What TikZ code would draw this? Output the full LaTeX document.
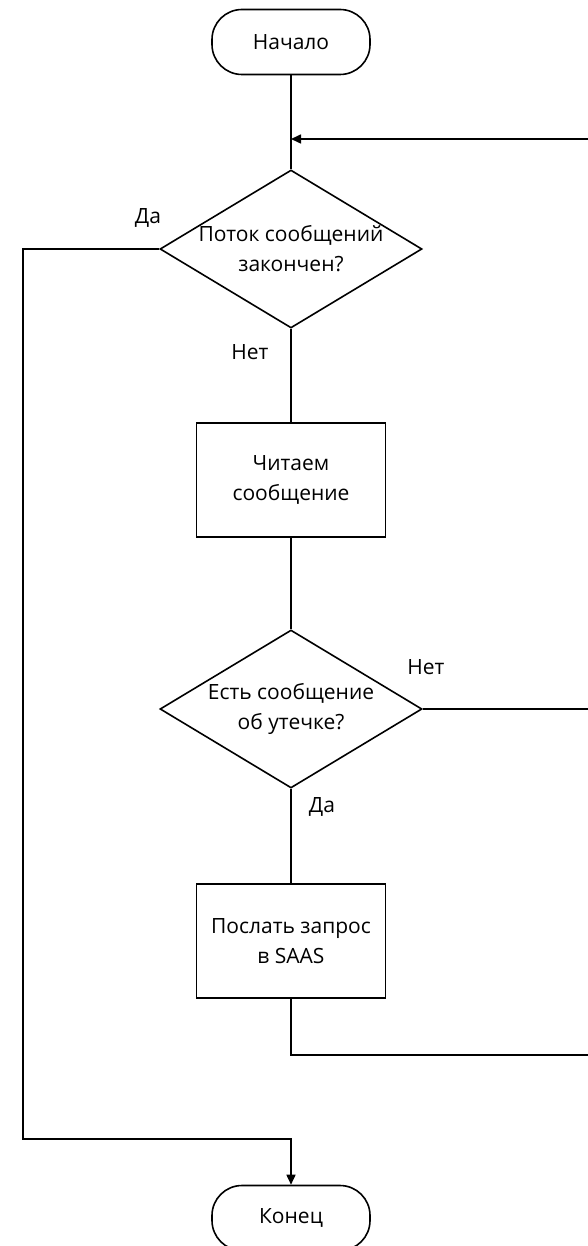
\documentclass[tikz,border=0pt]{standalone}
\usepackage{fontspec}
\setmainfont{Open Sans}
\usetikzlibrary{shapes.geometric,arrows.meta}
\begin{document}
\begin{tikzpicture}[x=1pt, y=-1pt, line width=1.6pt,
  term/.style={draw, rectangle, rounded corners=30pt, minimum width=158pt, minimum height=65pt, font=\fontsize{21}{30}\selectfont},
  proc/.style={draw, rectangle, minimum width=189pt, minimum height=114pt, align=center, font=\fontsize{21}{30}\selectfont},
  cond/.style={draw, diamond, aspect=1.66, inner xsep=-11pt, inner ysep=0pt, minimum width=262pt, minimum height=158pt, align=center, font=\fontsize{21}{30}\selectfont},
  lbl/.style={font=\fontsize{21}{24}\selectfont},
  flow/.style={-{Triangle[length=10pt,width=9pt]}}]
\useasboundingbox (0,0) rectangle (588,1246);
% blocks
\node[term] (start) at (291,42) {Начало};
\node[cond] (check) at (291,249) {Поток сообщений\\закончен?};
\node[proc] (read) at (291,480) {Читаем\\сообщение};
\node[cond] (leak) at (291,709) {Есть сообщение\\об утечке?};
\node[proc] (send) at (291,941) {Послать запрос\\в SAAS};
\node[term] (stop) at (291,1218) {Конец};
% answers
\node[lbl] (yes1) at (148,218) {Да};
\node[lbl] (no1) at (250,352) {Нет};
\node[lbl] (no2) at (426,667) {Нет};
\node[lbl] (yes2) at (322,807) {Да};
% turning points
\coordinate (join) at (291,139);
\coordinate (back1) at (600,139);
\coordinate (back2) at (600,709);
\coordinate (back3) at (600,1055);
\coordinate (turn) at (23,1139);
% lines
\draw (start) -- (check);
\draw (check) -- (read);
\draw (read) -- (leak);
\draw (leak) -- (send);
\draw (leak.east) -- (back2);
\draw[flow] (send.south) |- (back3) -- (back1) -- (join);
\draw[flow] (check.west) -| (turn) -| (stop.north);
\end{tikzpicture}
\end{document}
